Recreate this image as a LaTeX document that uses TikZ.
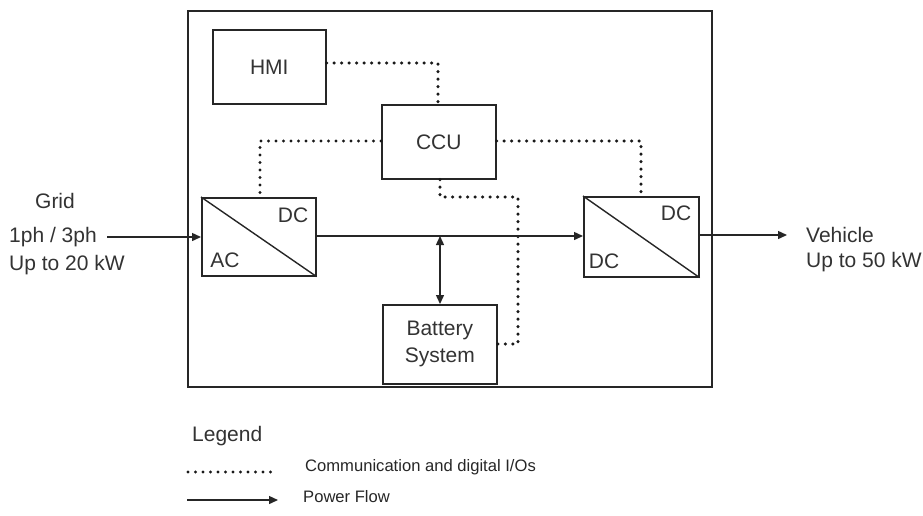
\documentclass[tikz,border=0pt]{standalone}
\usepackage{fontspec}
\setmainfont{Liberation Sans}
\usetikzlibrary{arrows.meta}
\begin{document}
\begin{tikzpicture}[x=1pt,y=-1pt,
  box/.style={draw=black!85, line width=1.6pt, inner sep=0pt},
  lbl/.style={font=\fontsize{21}{25}\selectfont, text=black!80, inner sep=0pt},
  small/.style={font=\fontsize{16.6}{19}\selectfont, text=black!85, inner sep=0pt},
  comm/.style={line width=3.4pt, line cap=round, dash pattern=on 0pt off 7.5pt, black!90},
  power/.style={line width=1.4pt, black!85, -{Triangle[length=9pt,width=8pt]}},
  powerb/.style={line width=1.4pt, black!85, {Triangle[length=9pt,width=8pt]}-{Triangle[length=9pt,width=8pt]}}]
\useasboundingbox (0,0) rectangle (923,515);
% outer box
\node[box, anchor=north west, minimum width=524pt, minimum height=376pt] (outer) at (187,10) {};
% blocks
\node[box, anchor=north west, minimum width=113pt, minimum height=74pt] (hmi) at (212,29) {};
\node[lbl] at (hmi.center) {HMI};
\node[box, anchor=north west, minimum width=114pt, minimum height=74pt] (ccu) at (381,104) {};
\node[lbl] at (ccu.center) {CCU};
\node[box, anchor=north west, minimum width=114pt, minimum height=79pt] (bat) at (382,304) {};
\node[lbl, align=center, font=\fontsize{21}{27}\selectfont] at (bat.center) {Battery\\System};
\node[box, anchor=north west, minimum width=114pt, minimum height=78pt] (acdc) at (201,197) {};
\draw[line width=1.4pt, black!85] (acdc.north west) -- (acdc.south east);
\node[lbl] at (293,215) {DC};
\node[lbl] at (225,260) {AC};
\node[box, anchor=north west, minimum width=115pt, minimum height=80pt] (dcdc) at (583,196) {};
\draw[line width=1.4pt, black!85] (dcdc.north west) -- (dcdc.south east);
\node[lbl] at (676,213) {DC};
\node[lbl] at (604,261) {DC};
% comm lines
\coordinate (c1) at (438,63);
\draw[comm] (hmi.east |- c1) -- (c1) -- (c1 |- ccu.north);
\coordinate (c2) at (260,141);
\draw[comm] (ccu.west |- c2) -- (c2) -- (c2 |- acdc.north);
\coordinate (c3) at (641,141);
\draw[comm] (ccu.east |- c3) -- (c3) -- (c3 |- dcdc.north);
\coordinate (c4) at (440,197);
\coordinate (c5) at (518,197);
\coordinate (c6) at (518,344);
\draw[comm] (c4 |- ccu.south) -- (c4) -- (c5) -- (c6) -- (bat.east |- c6);
% power lines
\coordinate (g) at (107,237);
\draw[power] (g) -- (acdc.west |- g);
\coordinate (b1) at (315,236);
\draw[power] (b1) -- (dcdc.west |- b1);
\coordinate (bb) at (440,236);
\draw[powerb] (bb) -- (bb |- bat.north);
\coordinate (v1) at (698,235);
\coordinate (v2) at (787,235);
\draw[power] (v1) -- (v2);
% external labels
\node[lbl] (grid) at (55,201) {Grid};
\node[lbl] (ph) at (53,237) {1ph / 3ph};
\node[lbl, anchor=west] (up20) at (9,265) {Up to 20 kW};
\node[lbl, anchor=west] (veh) at (806,235) {Vehicle};
\node[lbl, anchor=west] (up50) at (806,262) {Up to 50 kW};
% legend
\node[lbl, anchor=west] (leg) at (192,436) {Legend};
\coordinate (l1) at (188,472);
\coordinate (l2) at (275,472);
\draw[comm] (l1) -- (l2);
\node[small, anchor=west] (lt1) at (305,467) {Communication and digital I/Os};
\coordinate (l3) at (187,500);
\coordinate (l4) at (278,500);
\draw[power] (l3) -- (l4);
\node[small, anchor=west] (lt2) at (303,497) {Power Flow};
\end{tikzpicture}
\end{document}
